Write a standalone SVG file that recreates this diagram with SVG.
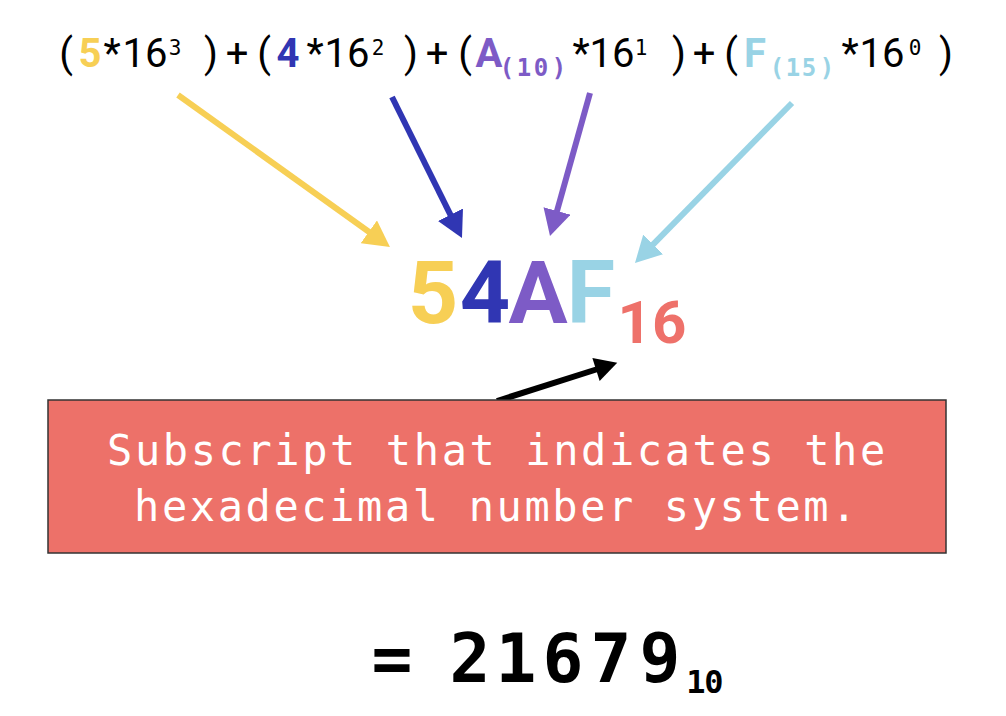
<svg xmlns="http://www.w3.org/2000/svg" width="1006" height="716" viewBox="0 0 1006 716">
<style>
.f{font-family:Roboto,"Liberation Sans",sans-serif;font-size:40px;fill:#000;text-anchor:middle}
.b{font-weight:bold}
.m{font-family:"DejaVu Sans Mono","Liberation Mono",monospace;text-anchor:middle}
.sup{font-size:21px}
.sub{font-size:24px;font-weight:bold}
.big{font-family:Roboto,"Liberation Sans",sans-serif;font-weight:bold;text-anchor:middle}
.y{fill:#F7CF55}.db{fill:#3036B3}.pu{fill:#7D5BC6}.lb{fill:#99D3E5}.rd{fill:#EE716A}
.ln{fill:none;stroke-width:6}
.box{fill:#ED7169;stroke:#333;stroke-width:1.5}
.bt{font-family:"DejaVu Sans Mono","Liberation Mono",monospace;font-size:42px;fill:#fff;letter-spacing:2.6px}
</style>
<defs>
<marker id="ay" viewBox="0 0 26 28" refX="6" refY="14" markerWidth="26" markerHeight="28" markerUnits="userSpaceOnUse" orient="auto"><path d="M0,0L26,14L0,28z" fill="#F7CF55"/></marker>
<marker id="adb" viewBox="0 0 26 28" refX="6" refY="14" markerWidth="26" markerHeight="28" markerUnits="userSpaceOnUse" orient="auto"><path d="M0,0L26,14L0,28z" fill="#3036B3"/></marker>
<marker id="apu" viewBox="0 0 26 28" refX="6" refY="14" markerWidth="26" markerHeight="28" markerUnits="userSpaceOnUse" orient="auto"><path d="M0,0L26,14L0,28z" fill="#7D5BC6"/></marker>
<marker id="alb" viewBox="0 0 26 28" refX="6" refY="14" markerWidth="26" markerHeight="28" markerUnits="userSpaceOnUse" orient="auto"><path d="M0,0L26,14L0,28z" fill="#99D3E5"/></marker>
<marker id="abk" viewBox="0 0 26 28" refX="6" refY="14" markerWidth="26" markerHeight="24" markerUnits="userSpaceOnUse" orient="auto"><path d="M0,0L26,14L0,28z" fill="#000"/></marker>
</defs>
<rect width="1006" height="716" fill="#fff"/>
<g id="formula">
<text class="f" y="67"><tspan x="66">(</tspan><tspan x="90" class="b y">5</tspan><tspan x="112">*</tspan><tspan x="145">16</tspan><tspan x="211">)</tspan><tspan x="237">+</tspan><tspan x="264">(</tspan><tspan x="288" class="b db">4</tspan><tspan x="315">*</tspan><tspan x="347">16</tspan><tspan x="411">)</tspan><tspan x="437">+</tspan><tspan x="465">(</tspan><tspan x="489" class="b pu">A</tspan><tspan x="581">*</tspan><tspan x="612">16</tspan><tspan x="679">)</tspan><tspan x="704">+</tspan><tspan x="731">(</tspan><tspan x="755" class="b lb">F</tspan><tspan x="850">*</tspan><tspan x="882">16</tspan><tspan x="946">)</tspan></text>
<text class="m sup" y="55"><tspan x="175">3</tspan><tspan x="378">2</tspan><tspan x="641">1</tspan><tspan x="915">0</tspan></text>
<text class="m sub pu" y="76" x="507 524 541 559">(10)</text>
<text class="m sub lb" y="76" x="777 793 809 827">(15)</text>
</g>
<g id="hex">
<text class="big" font-size="88" y="323"><tspan x="433" class="y">5</tspan><tspan x="485" class="db">4</tspan><tspan x="538" class="pu">A</tspan><tspan x="591" class="lb">F</tspan></text>
<text class="big rd" font-size="60" y="343" x="652">16</text>
</g>
<g id="connectors">
<line class="ln" x1="178" y1="95" x2="373.7" y2="235.3" stroke="#F7CF55" marker-end="url(#ay)"/>
<line class="ln" x1="392" y1="97" x2="453.1" y2="220.1" stroke="#3036B3" marker-end="url(#adb)"/>
<line class="ln" x1="590" y1="93" x2="555.4" y2="216.7" stroke="#7D5BC6" marker-end="url(#apu)"/>
<line class="ln" x1="792" y1="103" x2="649" y2="248.7" stroke="#99D3E5" marker-end="url(#alb)"/>
<line class="ln" x1="497" y1="401" x2="600.9" y2="368" stroke="#000" stroke-width="5" marker-end="url(#abk)"/>
</g>
<g id="note">
<rect class="box" x="48" y="400" width="898" height="153"/>
<text class="bt" x="107" y="465">Subscript that indicates the</text>
<text class="bt" x="134" y="521">hexadecimal number system.</text>
</g>
<g id="result">
<text class="m" font-weight="bold" font-size="68" y="682"><tspan x="392">=</tspan><tspan x="470">2</tspan><tspan x="516">1</tspan><tspan x="563">6</tspan><tspan x="611">7</tspan><tspan x="660">9</tspan></text>
<text class="m" font-weight="bold" font-size="32" y="693" x="696 714">10</text>
</g>
</svg>
